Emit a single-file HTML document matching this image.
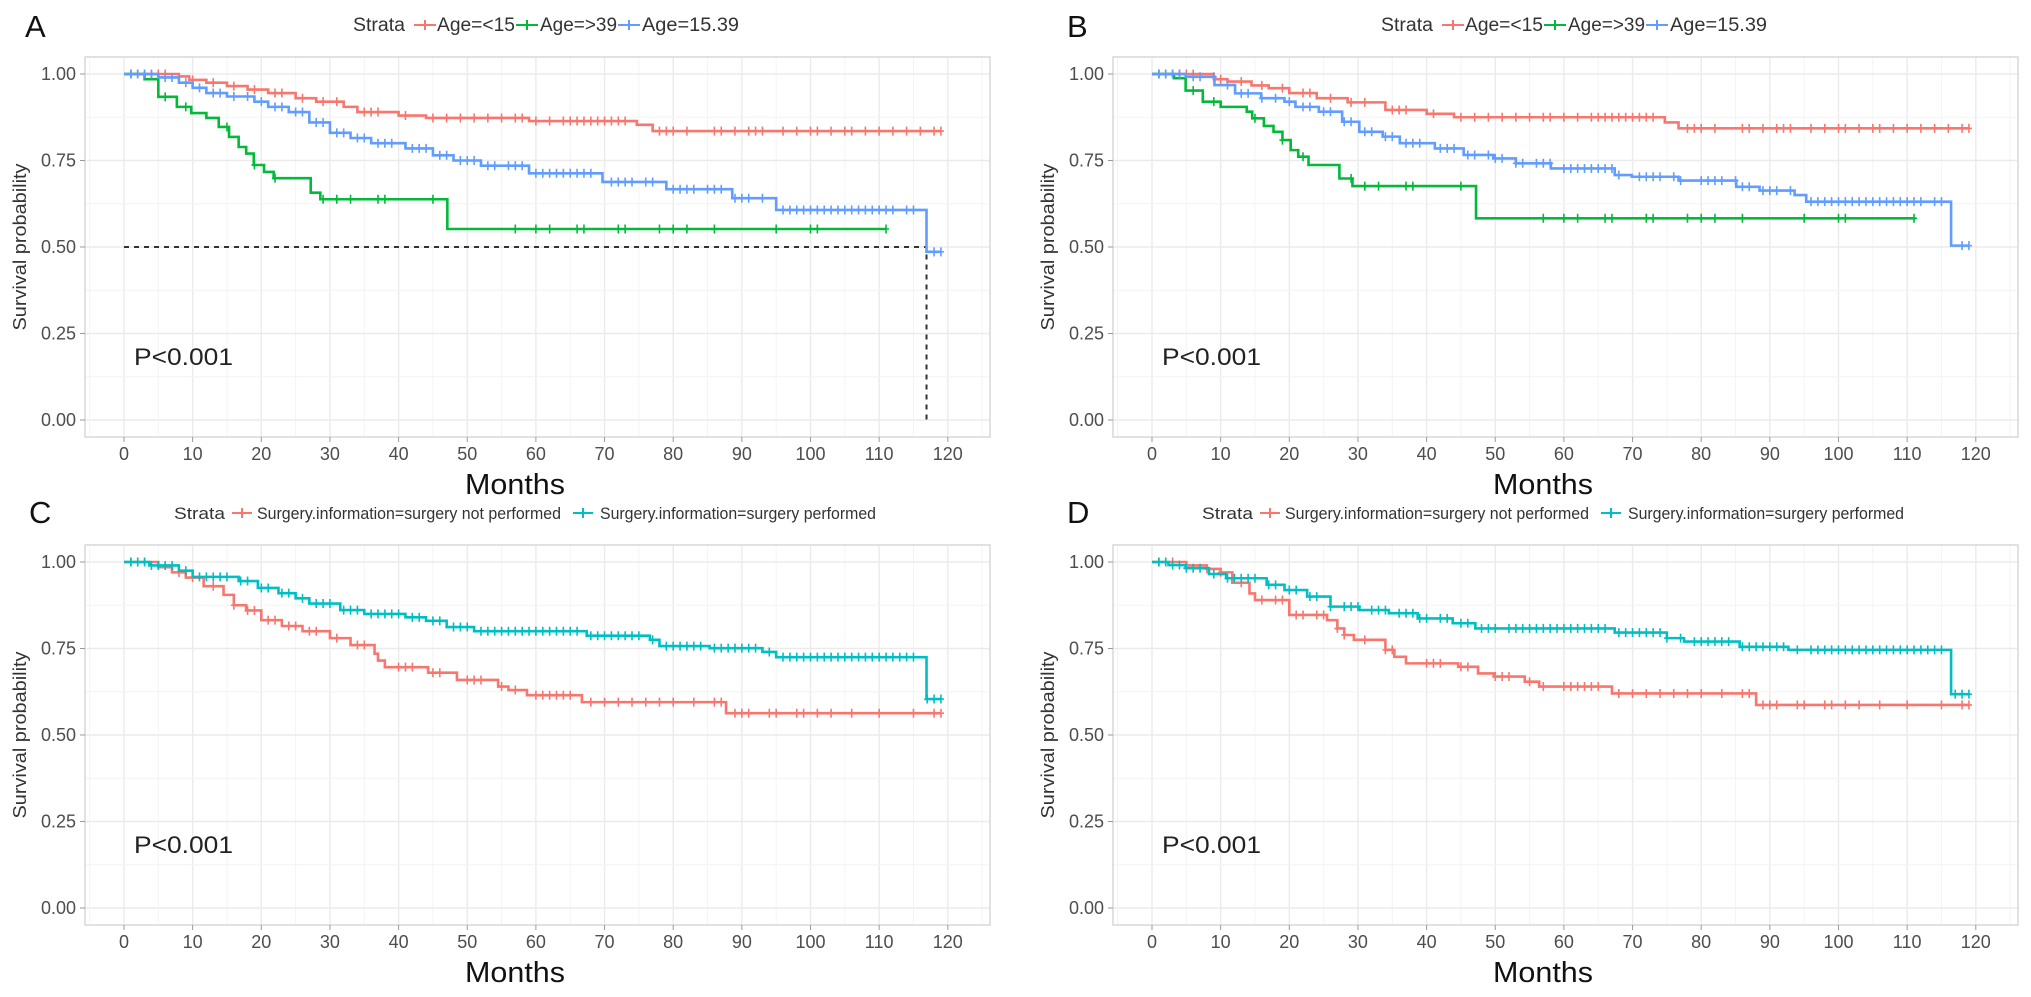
<!DOCTYPE html>
<html><head><meta charset="utf-8"><style>
html,body{margin:0;padding:0;background:#fff;}
svg{display:block;font-family:"Liberation Sans",Arial,sans-serif;}
</style></head><body>
<svg id="fig" width="2031" height="997" viewBox="0 0 2031 997"></svg>
<script>
// ---- data ----
const xTicks = [0,10,20,30,40,50,60,70,80,90,100,110,120];
const yTicks = [0,0.25,0.5,0.75,1];
const yTickLabels = ["0.00","0.25","0.50","0.75","1.00"];
// Panel A (time, survival) step curves
const aLt15 = [[0,1],[8,0.993],[9.5,0.983],[12,0.975],[15,0.965],[18,0.955],[21,0.945],[25,0.93],[28,0.92],[32,0.905],[34,0.89],[40,0.88],[44,0.873],[59,0.864],[74.7,0.853],[77,0.835],[119,0.835]];
const aGt39 = [[0,1],[3,0.985],[5,0.934],[7.7,0.905],[9.8,0.887],[12,0.873],[13.8,0.847],[15.3,0.818],[16.7,0.789],[17.8,0.77],[18.9,0.737],[20.4,0.717],[21.8,0.699],[27.2,0.657],[28.6,0.638],[47.1,0.552],[111,0.552]];
const a1539 = [[0,1],[5,0.99],[8,0.975],[10,0.96],[12,0.945],[15,0.935],[19,0.92],[21,0.905],[24,0.89],[27,0.86],[30,0.83],[33,0.815],[36,0.8],[41,0.785],[45,0.765],[48,0.75],[52,0.735],[59,0.713],[69.7,0.688],[79,0.667],[88.6,0.641],[95,0.607],[116.9,0.486],[119,0.486]];
// Panel B
const bLt15 = [[0,1],[9,0.985],[11,0.978],[14.5,0.967],[17,0.959],[20,0.945],[24,0.93],[28.5,0.918],[34,0.896],[40,0.885],[44,0.875],[74.7,0.86],[76.7,0.843],[119,0.843]];
const bGt39 = [[0,1],[3.2,0.988],[4.9,0.952],[7.4,0.92],[10,0.905],[13.8,0.891],[14.6,0.872],[16.3,0.85],[17.7,0.833],[19,0.809],[20.2,0.78],[21.3,0.761],[22.8,0.737],[27.3,0.698],[29.2,0.676],[47.2,0.583],[111.2,0.583]];
const b1539 = [[0,1],[4.9,0.992],[9.1,0.968],[12.1,0.944],[15.9,0.93],[19.3,0.92],[20.9,0.905],[24.3,0.891],[27.7,0.862],[30.2,0.833],[33.6,0.819],[36.1,0.8],[41.2,0.785],[45.4,0.766],[49.7,0.756],[53,0.742],[58.1,0.727],[67.4,0.708],[69.9,0.703],[76.7,0.692],[85.1,0.674],[88.5,0.663],[93.6,0.65],[95.3,0.631],[116.4,0.504],[119,0.504]];
// Panel C
const cNot = [[0,1],[5,0.985],[7,0.97],[9,0.955],[11.6,0.93],[14.5,0.905],[16,0.875],[17.8,0.86],[20,0.832],[23,0.815],[26,0.8],[30,0.78],[33,0.76],[36.5,0.735],[37,0.715],[38,0.696],[44.3,0.68],[48.5,0.659],[54.5,0.64],[56,0.63],[58.7,0.615],[66.7,0.595],[87.7,0.563],[119,0.563]];
const cPerf = [[0,1],[3.7,0.99],[8,0.975],[10,0.957],[16.7,0.945],[19.5,0.925],[22.5,0.91],[25,0.895],[27,0.88],[31.5,0.861],[35,0.85],[41,0.84],[44,0.83],[47,0.812],[51,0.8],[67.4,0.787],[76.6,0.775],[78,0.757],[85.3,0.751],[93,0.74],[95,0.725],[116.9,0.604],[119,0.604]];
// Panel D
const dNot = [[0,1],[5,0.99],[8,0.98],[10,0.97],[11.7,0.94],[14.2,0.909],[15,0.89],[20,0.847],[25.5,0.832],[27,0.808],[28,0.789],[29.4,0.775],[34,0.746],[35.3,0.726],[37,0.707],[44.6,0.697],[47.5,0.678],[49.8,0.669],[54.3,0.654],[56.4,0.64],[67,0.62],[88,0.587],[119,0.587]];
const dPerf = [[0,1],[2.4,0.991],[4.9,0.982],[8.3,0.965],[10.8,0.953],[16.7,0.934],[19.3,0.919],[22.6,0.9],[26,0.871],[30.2,0.861],[34.5,0.852],[38.7,0.837],[43.8,0.823],[47.1,0.808],[67.4,0.796],[75,0.78],[77.5,0.77],[85.6,0.755],[92.7,0.746],[116.4,0.618],[119,0.618]];
// censor times
const cenLt15 = [1,2,3,4,5,6,10,13,16,19,22,23,26,29,31,35,36,37,41,45,47,49,51,53,55,57,58,60,62,64,65,66,67,68,69,70,71,72,73,78,79,80,82,86,87,89,91,92,93,96,98,100,101,103,105,106,108,110,112,114,116,118,119];
const cenGt39 = [1,2,6,9,15,19,22,29,31,33,37,38,45,57,60,62,66,67,72,73,78,80,82,86,95,100,101,111];
const cen1539 = [1,2,3,4,6,7,9,11,13,14,16,18,20,22,23,25,26,28,29,31,32,34,35,37,38,39,42,43,44,46,47,49,50,51,53,54,56,57,58,60,61,62,63,64,65,66,67,68,71,72,73,74,76,77,80,81,82,83,85,86,87,89,90,91,93,96,97,98,99,100,101,102,103,104,105,106,107,108,109,110,111,112,114,115,118,119];
const cenNot = [1,2,3,8,10,13,16,18,19,21,22,24,25,27,28,31,34,35,40,41,42,45,46,50,51,52,55,57,60,61,62,63,64,65,68,70,72,74,76,78,80,83,86,87,89,90,91,94,95,98,99,101,103,106,110,115,118,119];
const cenPerf = [1,2,3,4,5,6,7,9,11,12,13,14,15,17,18,20,21,23,24,26,28,29,30,32,33,34,36,37,38,39,40,42,43,45,46,48,49,50,52,53,54,55,56,57,58,59,60,61,62,63,64,65,66,68,69,70,71,72,73,74,75,77,79,80,81,82,83,84,86,87,88,89,90,91,92,94,96,97,98,99,100,101,102,103,104,105,106,107,108,109,110,111,112,113,114,115,117,118,119];
</script>
<script>
const NS = "http://www.w3.org/2000/svg";
const svg = document.getElementById("fig");
const RED="#F8766D", GREEN="#00BA38", BLUE="#619CFF", TEAL="#00BFC4";
function mk(tag, attrs, parent){
  const e=document.createElementNS(NS,tag);
  for(const k in attrs) e.setAttribute(k,attrs[k]);
  (parent||svg).appendChild(e); return e;
}
function txt(s, attrs, parent){ const e=mk("text",attrs,parent); e.textContent=s; return e; }
function stepAt(curve,t){ let v=curve[0][1]; for(const p of curve){ if(p[0]<=t) v=p[1]; } return v; }

function panel(cfg){
  const dx=cfg.dx, dy=cfg.dy;
  const X = m => 124 + dx + m*6.865;
  const Y = v => 420 + dy - v*346;
  const g = mk("g",{});
  
  
  // panel letter
  const L = txt(cfg.letter,{x:25+dx+cfg.lx, y:37+dy+cfg.ly, "font-size":31, fill:"#111"}, g);
  
  
  // plot background grid
  const grid = mk("g",{},g);
  
  
  for(let m=-5;m<=125;m+=5){
    const major = m%10===0;
    mk("line",{x1:X(m),x2:X(m),y1:57+dy,y2:437+dy,stroke:major?"#ebebeb":"#f4f4f4","stroke-width":major?1.4:1},grid);
  }
  for(let v=0;v<=1.0001;v+=0.125){
    const major = Math.abs(v*4-Math.round(v*4))<1e-6;
    mk("line",{x1:85+dx,x2:990+dx,y1:Y(v),y2:Y(v),stroke:major?"#ebebeb":"#f4f4f4","stroke-width":major?1.4:1},grid);
  }
  const border = mk("rect",{x:85+dx,y:57+dy,width:905,height:380,fill:"none",stroke:"#dadada","stroke-width":1.6},g);
  
  
  // y ticks
  yTicks.forEach((v,i)=>{
    mk("line",{x1:80+dx,x2:85+dx,y1:Y(v),y2:Y(v),stroke:"#999","stroke-width":1},g);
    const t = txt(yTickLabels[i],{x:76+dx,y:Y(v)+6,"font-size":18,fill:"#4d4d4d","text-anchor":"end"},g);
    
    
  });
  xTicks.forEach(m=>{
    mk("line",{x1:X(m),x2:X(m),y1:437+dy,y2:442+dy,stroke:"#999","stroke-width":1},g);
    const t = txt(String(m),{x:X(m),y:460+dy,"font-size":18,fill:"#4d4d4d","text-anchor":"middle"},g);
    
    
  });
  const yt = txt("Survival probability",{x:0,y:0,"font-size":18,fill:"#333","text-anchor":"middle",textLength:167,lengthAdjust:"spacingAndGlyphs",transform:`translate(${26+dx},${247+dy}) rotate(-90)`},g);
  
  
  const xt = txt("Months",{x:515+dx,y:494+dy,"font-size":29,fill:"#111","text-anchor":"middle",textLength:100,lengthAdjust:"spacingAndGlyphs"},g);
  
  
  // median lines (A only)
  if(cfg.median){
    const md = mk("path",{d:`M${X(0)},${Y(0.5)}H${X(cfg.median)}V${Y(0)}`,fill:"none",stroke:"#333","stroke-width":2,"stroke-dasharray":"5,5"},g);
    
    
  }
  // curves
  cfg.series.forEach(s=>{
    let d=`M${X(s.c[0][0])},${Y(s.c[0][1])}`;
    for(let i=1;i<s.c.length;i++){ d+=`H${X(s.c[i][0])}V${Y(s.c[i][1])}`; }
    const p = mk("path",{d:d,fill:"none",stroke:s.col,"stroke-width":2.6},g);
    
    
    const end = s.c[s.c.length-1][0];
    s.cen.forEach(t=>{
      if(t>end) return;
      const y=Y(stepAt(s.c,t));
      const m = mk("path",{d:`M${X(t)},${y-4.5}V${y+4.5}M${X(t)-3},${y}H${X(t)+3}`,stroke:s.col,"stroke-width":1.6},g);
      
      
    });
  });
  const pv = txt("P<0.001",{x:134+dx,y:365+dy,"font-size":24,fill:"#222",textLength:99,lengthAdjust:"spacingAndGlyphs"},g);
  
  
  // legend
  const lg = mk("g",{},g);
  
  
  const ly = cfg.legY + dy;
  cfg.legend.forEach(it=>{
    if(it.key){
      const k = mk("path",{d:`M${it.x+dx},${ly-6}h${it.w}M${it.x+dx+it.w/2},${ly-11}v10`,stroke:it.key,"stroke-width":2},lg);
      
      
    } else {
      const t = txt(it.t,{x:it.x+dx,y:ly,"font-size":it.fs,fill:"#333",textLength:it.w,lengthAdjust:"spacingAndGlyphs"},lg);
      
      
    }
  });
}

const legAge = [
  {t:"Strata",x:353,w:52,fs:19},
  {key:RED,x:414,w:22},
  {t:"Age=<15",x:437,w:78,fs:19},
  {key:GREEN,x:516,w:22},
  {t:"Age=>39",x:540,w:77,fs:19},
  {key:BLUE,x:618,w:22},
  {t:"Age=15.39",x:642,w:97,fs:19}
];
const legSurg = [
  {t:"Strata",x:174,w:51,fs:17},
  {key:RED,x:232,w:20},
  {t:"Surgery.information=surgery not performed",x:257,w:304,fs:17},
  {key:TEAL,x:573,w:20},
  {t:"Surgery.information=surgery performed",x:600,w:276,fs:17}
];

panel({name:"panel-a",letter:"A",dx:0,dy:0,lx:0,ly:0,legY:31,legend:legAge,median:116.9,
  series:[{name:"age-lt15",c:aLt15,col:RED,cen:cenLt15},{name:"age-gt39",c:aGt39,col:GREEN,cen:cenGt39},{name:"age-15-39",c:a1539,col:BLUE,cen:cen1539}]});
panel({name:"panel-b",letter:"B",dx:1028,dy:0,lx:14,ly:0,legY:31,legend:legAge,
  series:[{name:"age-lt15",c:bLt15,col:RED,cen:cenLt15},{name:"age-gt39",c:bGt39,col:GREEN,cen:cenGt39},{name:"age-15-39",c:b1539,col:BLUE,cen:cen1539}]});
panel({name:"panel-c",letter:"C",dx:0,dy:488,lx:4,ly:-2,legY:31,legend:legSurg,
  series:[{name:"surgery-not-performed",c:cNot,col:RED,cen:cenNot},{name:"surgery-performed",c:cPerf,col:TEAL,cen:cenPerf}]});
panel({name:"panel-d",letter:"D",dx:1028,dy:488,lx:14,ly:-2,legY:31,legend:legSurg,
  series:[{name:"surgery-not-performed",c:dNot,col:RED,cen:cenNot},{name:"surgery-performed",c:dPerf,col:TEAL,cen:cenPerf}]});
</script>
</body></html>
